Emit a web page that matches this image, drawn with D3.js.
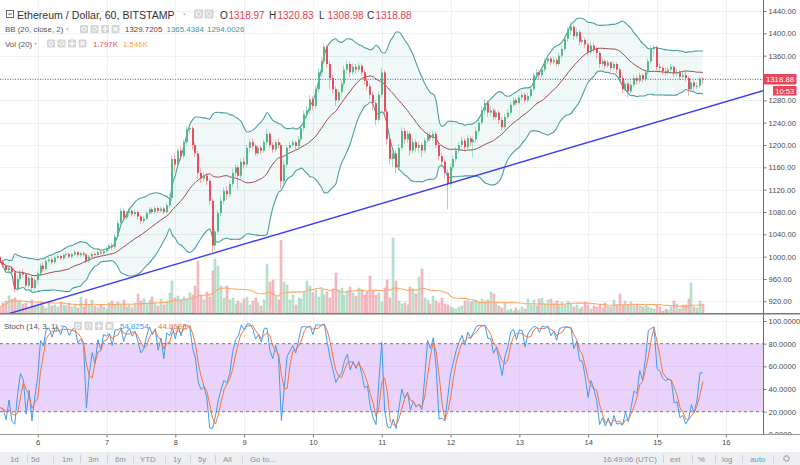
<!DOCTYPE html>
<html><head><meta charset="utf-8">
<script src="https://cdn.jsdelivr.net/npm/d3@7"></script>
<style>body{margin:0;background:#fff;}svg{display:block;font-family:"Liberation Sans",Arial,sans-serif;}</style>
</head><body><svg id="c" width="800" height="465"></svg>
<script>
// ---------- DATA ----------
const startTime = Date.UTC(2018, 0, 5, 11); // first hourly candle
const HOUR = 3600e3;
const opens = [1000,990,985,976,980,972,942,960,972,968,948,962,944,958,970,984,978,992,995,990,
998,1001,997,1003,1005,1000,1004,1008,1003,1006,1004,992,1000,1005,1003,1008,1006,1010,1014,1020,
1017,1036,1060,1082,1070,1078,1082,1076,1080,1072,1064,1068,1078,1085,1080,1087,1082,1086,1080,1092,
1105,1175,1165,1190,1180,1205,1228,1230,1200,1185,1150,1140,1145,1136,1100,1020,1045,1078,1100,1118,
1112,1130,1150,1160,1145,1170,1165,1195,1205,1198,1185,1195,1190,1205,1220,1200,1192,1205,1200,1135,
1165,1195,1200,1205,1198,1210,1230,1255,1262,1282,1270,1300,1330,1350,1376,1345,1320,1300,1280,1295,
1310,1335,1345,1330,1340,1335,1342,1330,1315,1305,1290,1275,1245,1290,1330,1260,1210,1175,1185,1160,
1195,1225,1210,1220,1190,1205,1195,1200,1190,1208,1218,1212,1220,1200,1180,1170,1150,1130,1160,1175,
1190,1200,1208,1196,1212,1205,1210,1225,1240,1262,1275,1258,1262,1250,1258,1245,1232,1250,1258,1272,
1280,1275,1285,1290,1280,1288,1300,1325,1330,1325,1335,1350,1355,1348,1352,1345,1360,1372,1390,1405,
1412,1395,1402,1385,1388,1380,1366,1378,1372,1365,1345,1350,1342,1348,1338,1345,1335,1320,1300,1310,
1296,1308,1320,1315,1325,1318,1330,1350,1372,1375,1340,1338,1332,1330,1335,1340,1328,1330,1322,1325,
1320,1300,1312,1305,1306,1318.97];
const highs = [1003,994,988,984,983,975,966,976,978,971,965,966,962,974,988,990,996,999,998,1002,
1005,1004,1006,1009,1008,1007,1012,1010,1009,1009,1006,1003,1008,1008,1011,1011,1013,1018,1024,1025,
1040,1066,1088,1086,1082,1087,1085,1084,1083,1075,1072,1082,1089,1088,1091,1090,1090,1089,1096,1112,
1182,1185,1196,1198,1210,1234,1238,1234,1204,1190,1158,1152,1150,1140,1104,1052,1084,1108,1124,1126,
1136,1158,1166,1164,1176,1178,1200,1210,1212,1202,1200,1199,1210,1228,1224,1205,1210,1212,1204,1172,
1200,1206,1210,1208,1216,1236,1262,1270,1290,1288,1306,1338,1358,1382,1380,1350,1326,1305,1300,1316,
1342,1352,1350,1346,1345,1348,1346,1334,1320,1310,1295,1280,1296,1338,1334,1265,1215,1192,1190,1202,
1232,1230,1226,1224,1212,1210,1206,1204,1214,1224,1222,1226,1224,1204,1186,1174,1156,1166,1180,1196,
1205,1214,1212,1218,1216,1215,1232,1246,1270,1282,1280,1270,1266,1264,1262,1250,1256,1264,1278,1286,
1285,1290,1296,1294,1294,1306,1330,1336,1334,1340,1356,1360,1358,1358,1356,1366,1378,1396,1412,1420,
1416,1410,1406,1394,1392,1384,1384,1382,1376,1368,1356,1354,1352,1350,1350,1348,1338,1324,1316,1314,
1314,1326,1324,1330,1328,1336,1356,1378,1380,1378,1346,1342,1338,1340,1345,1342,1336,1334,1330,1332,
1324,1318,1316,1312,1322,1320.83];
const lows = [986,980,972,970,968,936,938,955,962,944,944,938,940,950,966,974,975,988,986,987,
995,993,994,1000,997,997,1001,1000,999,1001,988,989,997,999,1000,1002,1003,1007,1011,1012,
1015,1032,1056,1064,1066,1074,1072,1072,1066,1058,1060,1065,1075,1076,1077,1078,1079,1076,1077,1088,
1100,1152,1160,1172,1175,1200,1220,1192,1178,1140,1132,1134,1128,1092,1008,1012,1040,1072,1094,1102,
1106,1124,1142,1120,1140,1158,1160,1188,1192,1180,1180,1184,1186,1200,1195,1186,1188,1195,1122,1130,
1160,1190,1196,1192,1194,1205,1225,1248,1256,1262,1265,1295,1322,1345,1338,1300,1292,1270,1275,1288,
1305,1328,1322,1325,1328,1330,1324,1308,1298,1282,1262,1235,1240,1285,1250,1200,1165,1160,1150,1156,
1190,1202,1204,1180,1185,1188,1186,1178,1186,1204,1206,1208,1194,1172,1160,1140,1085,1124,1154,1170,
1185,1196,1190,1192,1198,1178,1205,1220,1236,1255,1250,1252,1244,1246,1238,1226,1228,1246,1254,1268,
1270,1272,1280,1275,1276,1284,1296,1318,1318,1320,1330,1345,1342,1344,1340,1342,1355,1368,1385,1398,
1388,1390,1378,1380,1374,1360,1362,1365,1355,1338,1340,1336,1338,1332,1334,1328,1312,1292,1296,1285,
1292,1304,1308,1310,1312,1314,1326,1346,1360,1334,1330,1326,1324,1326,1330,1322,1322,1316,1318,1314,
1288,1296,1298,1300,1302,1308.98];
const closes = [990,985,976,980,972,942,960,972,968,948,962,944,958,970,984,978,992,995,990,998,
1001,997,1003,1005,1000,1004,1008,1003,1006,1004,992,1000,1005,1003,1008,1006,1010,1014,1020,1017,
1036,1060,1082,1070,1078,1082,1076,1080,1072,1064,1068,1078,1085,1080,1087,1082,1086,1080,1092,1105,
1175,1165,1190,1180,1205,1228,1230,1200,1185,1150,1140,1145,1136,1100,1020,1045,1078,1100,1118,1112,
1130,1150,1160,1145,1170,1165,1195,1205,1198,1185,1195,1190,1205,1220,1200,1192,1205,1200,1135,1165,
1195,1200,1205,1198,1210,1230,1255,1262,1282,1270,1300,1330,1350,1376,1345,1320,1300,1280,1295,1310,
1335,1345,1330,1340,1335,1342,1330,1315,1305,1290,1275,1245,1290,1330,1260,1210,1175,1185,1160,1195,
1225,1210,1220,1190,1205,1195,1200,1190,1208,1218,1212,1220,1200,1180,1170,1150,1130,1160,1175,1190,
1200,1208,1196,1212,1205,1210,1225,1240,1262,1275,1258,1262,1250,1258,1245,1232,1250,1258,1272,1280,
1275,1285,1290,1280,1288,1300,1325,1330,1325,1335,1350,1355,1348,1352,1345,1360,1372,1390,1405,1412,
1395,1402,1385,1388,1380,1366,1378,1372,1365,1345,1350,1342,1348,1338,1345,1335,1320,1300,1310,1296,
1308,1320,1315,1325,1318,1330,1350,1372,1375,1340,1338,1332,1330,1335,1340,1328,1330,1322,1325,1320,
1300,1312,1305,1306,1318.97,1318.88];
const volumes = [1.2,2.0,2.4,3.4,2.8,3.0,2.2,2.4,1.8,2.0,1.2,2.6,1.6,1.8,2.2,1.4,1.0,2.0,1.4,1.6,
1.2,2.2,1.6,1.4,2.0,1.2,1.8,1.0,3.2,1.2,2.8,1.6,2.6,1.4,1.0,1.6,1.2,0.8,2.0,2.4,
1.6,2.2,1.8,2.6,1.2,1.6,1.0,2.0,3.8,2.4,2.8,1.6,2.6,3.2,2.0,1.4,2.8,1.6,2.4,4.0,
6.4,3.0,3.4,2.6,3.2,2.8,4.0,3.6,5.4,10.4,3.6,2.6,4.2,3.2,8.4,10.8,9.4,5.4,3.0,5.4,
2.6,3.0,1.8,2.4,2.0,2.8,3.2,1.6,2.4,3.0,2.0,1.4,2.6,9.8,6.2,6.6,3.4,2.6,14.5,6.2,
5.6,2.6,3.6,1.6,3.0,2.8,4.2,6.4,5.4,4.0,4.6,3.2,4.8,3.6,4.2,3.0,4.8,8.0,4.6,5.0,
3.6,4.4,5.2,4.0,3.4,5.0,4.6,3.6,4.2,7.4,4.4,3.6,4.0,2.2,5.0,6.6,3.0,15.0,6.4,2.4,
1.8,2.0,1.6,5.2,4.8,3.8,7.2,8.8,3.0,2.6,1.8,3.4,2.4,2.0,3.0,1.8,1.6,1.2,1.0,0.8,
1.2,1.4,2.4,2.6,2.2,2.4,2.6,2.2,2.8,2.4,2.6,4.2,3.8,2.0,1.4,1.0,2.0,0.6,0.8,0.4,
1.0,0.6,1.2,0.8,2.8,1.6,2.6,1.4,2.8,3.0,1.8,2.6,2.8,2.0,2.4,1.4,2.2,1.6,2.4,1.8,
1.2,1.6,0.8,1.2,2.2,1.6,0.8,1.4,1.2,1.8,1.0,2.0,1.4,1.2,2.6,1.6,3.8,1.6,2.4,1.6,
2.2,1.4,1.6,1.4,1.2,1.6,1.2,1.0,0.8,1.6,1.2,0.4,0.8,0.6,1.2,2.4,1.8,0.8,1.6,1.6,
2.8,6.0,1.2,1.0,2.4,1.797];
const priceTicks = [920,960,1000,1040,1080,1120,1160,1200,1240,1280,1320,1360,1400,1440];
const stochTicks = [0,20,40,60,80,100];
const stochBand = [20,80];
const trendIdx = [2.3, 266];       // trend line anchors (candle index)
const trendPrice = [897, 1297.3];  // trend line anchors (price)
const titleText = "Ethereum / Dollar, 60, BITSTAMP";
const ohlcLetters = ["O","H","L","C"];
const bbLabel = "BB (20, close, 2)";
const bbValues = ["1329.7205","1365.4384","1294.0026"];
const volLabel = "Vol (20)";
const volValues = ["1.797K","1.546K"];
const stochLabel = "Stoch (14, 3, 1)";
const stochValues = ["54.8254","44.8689"];
const countdown = "10:53";
const toolbarLeft = ["1d","5d","1m","3m","6m","YTD","1y","5y","All","Go to..."];
const toolbarRight = ["16:49:06 (UTC)","ext","%","log","auto"];

// ---------- COLOURS ----------
const UP = "#53b987", DOWN = "#eb4d5c";
const svg = d3.select("#c");
const plotR = 763;
const n = closes.length;
const t = i => new Date(startTime + i * HOUR);
const x = d3.scaleUtc().domain([t(-0.15), t(265.98)]).range([0, plotR]);
const y = d3.scaleLinear().domain([899.1, 1459.7]).range([313, 0]);
const yV = d3.scaleLinear().domain([0, 16]).range([313, 233]);
const yS = d3.scaleLinear().domain([0, 100]).range([434.3, 321]);
const idx = d3.range(n);
const cx = i => Math.round(x(t(i)));
const last = closes[n - 1], yl = Math.round(y(last)) + 0.5;

// indicators
const bb = idx.map(i => { const w = closes.slice(Math.max(0, i - 19), i + 1); const m = d3.mean(w);
  const sd = Math.sqrt(d3.mean(w.map(v => (v - m) ** 2))); return {m, u: m + 2 * sd, l: m - 2 * sd}; });
const vma = idx.map(i => d3.mean(volumes.slice(Math.max(0, i - 19), i + 1)));
const K = idx.map(i => { const s = Math.max(0, i - 13); const hh = d3.max(highs.slice(s, i + 1)), ll = d3.min(lows.slice(s, i + 1));
  return hh === ll ? 50 : 100 * (closes[i] - ll) / (hh - ll); });
const D = idx.map(i => d3.mean(K.slice(Math.max(0, i - 2), i + 1)));

const defs = svg.append("defs");
defs.append("clipPath").attr("id", "cm").append("rect").attr("x", 0).attr("y", 0).attr("width", plotR).attr("height", 313);
defs.append("clipPath").attr("id", "cs").append("rect").attr("x", 0).attr("y", 315).attr("width", plotR).attr("height", 120);

const days = x.ticks(d3.utcDay.every(1));
const grid = svg.append("g").attr("stroke", "#edf1f5").attr("stroke-width", 1);
days.forEach(d => { const xx = Math.round(x(d)) + 0.5;
  grid.append("line").attr("x1", xx).attr("x2", xx).attr("y1", 0).attr("y2", 434); });
priceTicks.forEach(p => { const yy = Math.round(y(p)) + 0.5;
  grid.append("line").attr("x1", 0).attr("x2", plotR).attr("y1", yy).attr("y2", yy); });
[40, 60, 100].forEach(s => { const yy = Math.round(yS(s)) + 0.5;
  grid.append("line").attr("x1", 0).attr("x2", plotR).attr("y1", yy).attr("y2", yy); });

// main pane
const gm = svg.append("g").attr("clip-path", "url(#cm)");
gm.append("path").datum(idx).attr("fill", "rgba(0,140,140,0.06)")
  .attr("d", d3.area().x(i => x(t(i))).y0(i => y(bb[i].l)).y1(i => y(bb[i].u)).curve(d3.curveMonotoneX));
// volume
gm.append("g").selectAll("rect").data(idx).join("rect")
  .attr("x", i => cx(i) - 1).attr("width", 2)
  .attr("y", i => yV(volumes[i])).attr("height", i => 313 - yV(volumes[i]))
  .attr("fill", i => closes[i] >= opens[i] ? "#bfe4cf" : "#f7c0c7")
  .attr("stroke", i => closes[i] >= opens[i] ? "#9fd3b7" : "#f09aa5").attr("stroke-width", 0.5);
gm.append("path").datum(idx).attr("fill", "none").attr("stroke", "#ffa66b").attr("stroke-width", 1.1)
  .attr("d", d3.line().x(i => x(t(i))).y(i => yV(vma[i])));
// BB lines
const bbLine = k => d3.line().x(i => x(t(i))).y(i => y(bb[i][k])).curve(d3.curveMonotoneX);
gm.append("path").datum(idx).attr("fill", "none").attr("stroke", "#4aa0a0").attr("stroke-width", 1.1).attr("d", bbLine("u"));
gm.append("path").datum(idx).attr("fill", "none").attr("stroke", "#4aa0a0").attr("stroke-width", 1.1).attr("d", bbLine("l"));
gm.append("path").datum(idx).attr("fill", "none").attr("stroke", "#9a4d55").attr("stroke-width", 1).attr("d", bbLine("m"));
// candles
const cg = gm.append("g");
cg.selectAll("line").data(idx).join("line")
  .attr("x1", i => cx(i) - 0.5).attr("x2", i => cx(i) - 0.5)
  .attr("y1", i => y(highs[i])).attr("y2", i => y(lows[i]))
  .attr("stroke", i => closes[i] >= opens[i] ? UP : DOWN).attr("stroke-opacity", 0.45);
cg.selectAll("rect").data(idx).join("rect")
  .attr("x", i => cx(i) - 1).attr("width", 2)
  .attr("y", i => y(Math.max(opens[i], closes[i])))
  .attr("height", i => Math.max(1, Math.abs(y(opens[i]) - y(closes[i]))))
  .attr("fill", i => closes[i] >= opens[i] ? UP : DOWN);
// trend line
gm.append("line").attr("x1", x(t(trendIdx[0]))).attr("y1", y(trendPrice[0]))
  .attr("x2", x(t(trendIdx[1]))).attr("y2", y(trendPrice[1]))
  .attr("stroke", "#3d3df2").attr("stroke-width", 1.4);
// last price line
gm.append("line").attr("x1", 0).attr("x2", plotR).attr("y1", yl).attr("y2", yl)
  .attr("stroke", "#e8455a").attr("stroke-dasharray", "1,1.5");

// stoch pane
const gs = svg.append("g").attr("clip-path", "url(#cs)");
gs.append("rect").attr("x", 0).attr("width", plotR).attr("y", yS(stochBand[1])).attr("height", yS(stochBand[0]) - yS(stochBand[1]))
  .attr("fill", "#ead3fb");
[40, 60].forEach(s => gs.append("line").attr("x1", 0).attr("x2", plotR).attr("y1", Math.round(yS(s)) + 0.5).attr("y2", Math.round(yS(s)) + 0.5).attr("stroke", "#e2c8f5"));
days.forEach(d => { const xx = Math.round(x(d)) + 0.5;
  gs.append("line").attr("x1", xx).attr("x2", xx).attr("y1", yS(80)).attr("y2", yS(20)).attr("stroke", "#e2c8f5"); });
stochBand.forEach(s => gs.append("line").attr("x1", 0).attr("x2", plotR).attr("y1", yS(s)).attr("y2", yS(s))
  .attr("stroke", "#8f8a99").attr("stroke-width", 1.2).attr("stroke-dasharray", "3,3"));
gs.append("path").datum(idx).attr("fill", "none").attr("stroke", "#3f9cf2").attr("stroke-width", 1)
  .attr("d", d3.line().x(i => x(t(i))).y(i => yS(K[i])));
gs.append("path").datum(idx).attr("fill", "none").attr("stroke", "#f2763a").attr("stroke-width", 1)
  .attr("d", d3.line().x(i => x(t(i))).y(i => yS(D[i])));

// axes (price labels hidden behind the last-price box are skipped, as in the reference)
const axStyle = g => { g.selectAll("text").attr("fill", "#4a4a4a").style("font-size", "7.6px").style("font-family", "Liberation Sans, Arial, sans-serif");
  g.selectAll(".tick line").attr("stroke", "#777"); g.select(".domain").remove(); };
const shownPriceTicks = priceTicks.filter(p => Math.abs(y(p) - yl) > 8);
svg.append("g").attr("transform", `translate(${plotR + 0.5},0)`)
  .call(d3.axisRight(y).tickValues(shownPriceTicks).tickFormat(d3.format(".2f")).tickSize(3).tickPadding(2)).call(axStyle);
svg.append("g").attr("transform", `translate(${plotR + 0.5},0)`)
  .call(d3.axisRight(yS).tickValues(stochTicks).tickFormat(d3.format(".4f")).tickSize(3).tickPadding(2)).call(axStyle);
// x axis area
svg.append("rect").attr("x", 0).attr("y", 435).attr("width", 800).attr("height", 30).attr("fill", "#fff");
svg.append("g").attr("transform", "translate(0,434.5)")
  .call(d3.axisBottom(x).tickValues(days).tickFormat(d3.utcFormat("%-d")).tickSize(3).tickPadding(2)).call(axStyle);
svg.append("line").attr("x1", 0).attr("x2", 800).attr("y1", 434.5).attr("y2", 434.5).attr("stroke", "#9a9a9a");
svg.append("line").attr("x1", plotR + 0.5).attr("x2", plotR + 0.5).attr("y1", 0).attr("y2", 435).attr("stroke", "#6e6e6e");
svg.append("line").attr("x1", 0).attr("x2", 800).attr("y1", 313.8).attr("y2", 313.8).attr("stroke", "#7a7a7a").attr("stroke-width", 1.4);

// price label boxes
svg.append("rect").attr("x", plotR + 0.5).attr("y", yl - 5.5).attr("width", 33).attr("height", 10.5).attr("fill", "#e8455a");
svg.append("text").attr("x", plotR + 17).attr("y", yl + 2.8).attr("text-anchor", "middle").attr("fill", "#fff")
  .style("font-size", "7.8px").text(d3.format(".2f")(last));
svg.append("rect").attr("x", 773).attr("y", yl + 6.5).attr("width", 23.5).attr("height", 9.5).attr("fill", "#e8455a");
svg.append("text").attr("x", 784.7).attr("y", yl + 14).attr("text-anchor", "middle").attr("fill", "#fff")
  .style("font-size", "7.6px").text(countdown);

// ---------- LEGENDS ----------
const icons = (xs, yy, s) => xs.forEach((xx, k) => {
  svg.append("rect").attr("x", xx).attr("y", yy).attr("width", s).attr("height", s).attr("rx", 1).attr("fill", "#d5d5d8");
  const c = xx + s / 2, m = yy + s / 2, r = s * 0.25;
  const kind = k % 4;
  if (kind === 0) svg.append("circle").attr("cx", c).attr("cy", m).attr("r", r).attr("fill", "none").attr("stroke", "#fff").attr("stroke-width", 1);
  else if (kind === 1) svg.append("circle").attr("cx", c).attr("cy", m).attr("r", r).attr("fill", "none").attr("stroke", "#fff").attr("stroke-width", 1.6).attr("stroke-dasharray", "1,0.8");
  else if (kind === 2) { svg.append("path").attr("d", `M${c - r - 1},${m}H${c + r + 1}M${c},${m - r - 1}V${m + r + 1}`).attr("stroke", "#fff").attr("stroke-width", 1.2); }
  else svg.append("path").attr("d", `M${c - r},${m - r}L${c + r},${m + r}M${c + r},${m - r}L${c - r},${m + r}`).attr("stroke", "#fff").attr("stroke-width", 1.2);
});
const arrow = (xx, yy) => svg.append("path").attr("d", `M${xx},${yy}l3,0l-1.5,2z`).attr("fill", "#b0b0b0");
const txt = (xx, yy, s, fs, col) => svg.append("text").attr("x", xx).attr("y", yy).style("font-size", fs + "px").attr("fill", col).text(s);

// row 1
svg.append("rect").attr("x", 6.5).attr("y", 10.5).attr("width", 7).attr("height", 7).attr("fill", "#fff").attr("stroke", "#666");
svg.append("line").attr("x1", 8).attr("x2", 12).attr("y1", 14).attr("y2", 14).attr("stroke", "#666");
txt(17, 18.5, titleText, 10.6, "#333");
arrow(183, 13.5);
icons([194, 204.5], 9.5, 9);
const ohlc = [opens[n - 1], highs[n - 1], lows[n - 1], closes[n - 1]];
const ohlcX = [220, 269, 319, 367];
const valCol = closes[n - 1] >= opens[n - 1] ? UP : "#e33e50";
ohlc.forEach((v, k) => { txt(ohlcX[k], 18.5, ohlcLetters[k], 10, "#333"); txt(ohlcX[k] + 8.5, 18.5, d3.format(".2f")(v), 10, valCol); });
// row 2
txt(5, 32, bbLabel, 7.9, "#555"); arrow(66, 28.5); icons([80, 90.5, 101, 111.5], 25, 8);
[125, 166.5, 207].forEach((xx, k) => txt(xx, 32, bbValues[k], 7.9, k === 0 ? "#8c2f3c" : "#3a9a9a"));
// row 3
txt(5, 46.5, volLabel, 7.9, "#555"); arrow(34, 43); icons([47, 57.5, 68, 78.5], 39.5, 8);
txt(93, 46.5, volValues[0], 7.9, DOWN); txt(123, 46.5, volValues[1], 7.9, "#ff9a55");
// stoch legend
txt(4, 329, stochLabel, 7.9, "#555"); arrow(60, 325.5); icons([74, 84.5, 95, 105.5], 322, 8);
txt(120, 329, stochValues[0], 7.9, "#3f9cf2"); txt(158, 329, stochValues[1], 7.9, "#f2763a");

// ---------- TOOLBAR ----------
svg.append("rect").attr("x", 0).attr("y", 452).attr("width", 800).attr("height", 13).attr("fill", "#eceef1");
const tlX = [10, 31, 62, 88, 115, 140, 173, 198, 223, 250];
const tlSep = [27, 53, 80, 107, 133, 165, 190, 215, 242];
toolbarLeft.forEach((s, k) => txt(tlX[k], 461.5, s, 7.8, "#8c8f98"));
const trX = [603, 670, 698, 722, 750];
const trSep = [663, 692, 715, 742, 773];
toolbarRight.forEach((s, k) => txt(trX[k], 461.5, s, 7.8, k === 4 ? "#3fa9e6" : "#8c8f98"));
tlSep.concat(trSep).forEach(xx => svg.append("line").attr("x1", xx + 0.5).attr("x2", xx + 0.5).attr("y1", 455).attr("y2", 463).attr("stroke", "#cfd2d8"));
svg.append("circle").attr("cx", 786.5).attr("cy", 458.5).attr("r", 2.6).attr("fill", "none").attr("stroke", "#8c8f98").attr("stroke-width", 1.6).attr("stroke-dasharray", "1.2,0.8");
</script></body></html>
